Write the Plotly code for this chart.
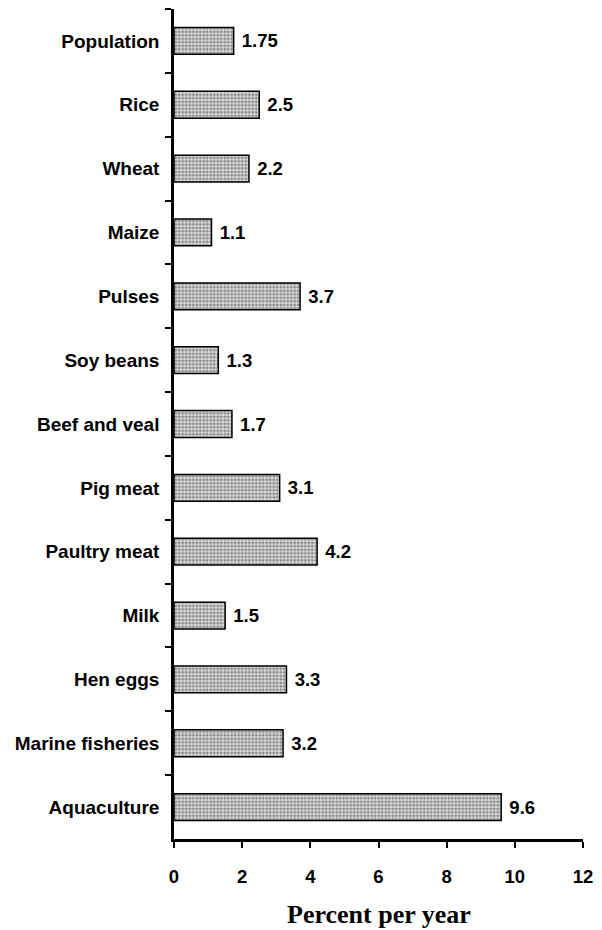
import plotly.graph_objects as go

categories = ["Population", "Rice", "Wheat", "Maize", "Pulses", "Soy beans",
              "Beef and veal", "Pig meat", "Paultry meat", "Milk", "Hen eggs",
              "Marine fisheries", "Aquaculture"]
values = [1.75, 2.5, 2.2, 1.1, 3.7, 1.3, 1.7, 3.1, 4.2, 1.5, 3.3, 3.2, 9.6]
x_ticks = [0, 2, 4, 6, 8, 10, 12]
x_title = "Percent per year"

SANS = "Liberation Sans, Arial, sans-serif"
SERIF = "Liberation Serif, Times New Roman, serif"

fig = go.Figure()
fig.add_trace(go.Bar(
    y=categories,
    x=values,
    orientation="h",
    width=0.42,
    marker=dict(
        color="#c8c8c8",
        line=dict(color="black", width=1.5),
        pattern=dict(shape=".", fgcolor="#333333", bgcolor="#dadada",
                     size=3.5, solidity=0.5, fillmode="overlay"),
    ),
    text=[f" {v}" for v in values],
    textposition="outside",
    constraintext="none",
    cliponaxis=False,
    textfont=dict(family=SANS, size=18.5, color="black", weight="bold"),
))

fig.update_layout(
    width=602, height=930,
    margin=dict(l=174, r=14, t=9, b=91),
    paper_bgcolor="white", plot_bgcolor="white",
    showlegend=False,
    font=dict(family=SANS, size=18, color="black"),
    xaxis=dict(
        range=[0, 12], tickvals=x_ticks, ticktext=[str(t) for t in x_ticks],
        ticks="outside", ticklen=6, tickwidth=2, tickcolor="black",
        showline=True, linewidth=2.5, linecolor="black",
        showgrid=False, zeroline=False,
        tickfont=dict(family=SANS, size=18.5, color="black", weight="bold"),
        ticklabelstandoff=13,
    ),
    yaxis=dict(
        categoryorder="array", categoryarray=categories,
        autorange="reversed",
        ticks="outside", tickson="boundaries", ticklen=6, tickwidth=2,
        tickcolor="black",
        showline=True, linewidth=2.5, linecolor="black",
        showgrid=False, zeroline=False,
        tickfont=dict(family=SANS, size=19, color="black", weight="bold"),
        ticklabelstandoff=8,
    ),
    annotations=[dict(
        text=x_title, xref="paper", yref="paper", x=0.502, y=-0.0904,
        xanchor="center", yanchor="middle", showarrow=False,
        font=dict(family=SERIF, size=26, color="black", weight="bold"),
    )],
)

fig.write_html("out.html",
               config={"displayModeBar": False},
               post_script="document.body.style.margin='0';document.body.style.overflow='hidden';")
